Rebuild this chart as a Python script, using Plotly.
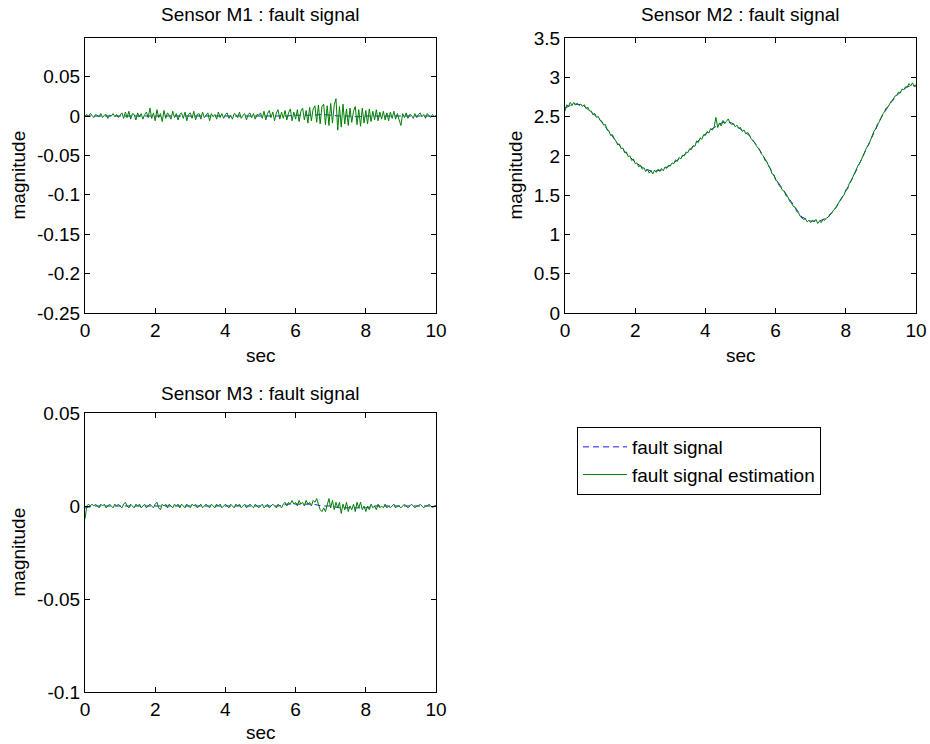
import plotly.graph_objects as go

# ---------------- data ----------------
t_fine = [round(i * 0.05, 2) for i in range(201)]          # estimation samples
t_sig = [round(i * 0.25, 2) for i in range(41)]             # fault signal samples

# Sensor M1
m1_signal = [0.000, 0.000, 0.000, 0.000, 0.000, 0.000, 0.000, 0.000, 0.000, 0.000,
             0.000, 0.000, 0.000, 0.000, 0.000, 0.000, 0.000, 0.000, 0.000, 0.000,
             0.000, 0.000, 0.000, 0.000, 0.001, 0.001, 0.001, 0.002, 0.001, 0.000,
             0.000, -0.001, 0.000, 0.000, 0.000, 0.000, 0.000, 0.000, 0.000, 0.000, 0.000]
m1_est = [0.000, 0.002, -0.001, 0.003, 0.001, -0.002, 0.002, 0.000, -0.001, 0.003,
          -0.002, 0.001, 0.002, -0.003, 0.001, 0.000, 0.003, -0.001, 0.002, -0.002,
          0.001, 0.004, -0.003, 0.005, -0.002, 0.006, -0.004, 0.003, 0.002, -0.005,
          0.004, -0.001, 0.003, -0.004, 0.002, 0.005, -0.002, 0.010, -0.003, 0.004,
          -0.006, 0.008, -0.002, 0.003, -0.007, 0.007, -0.003, 0.004, 0.001, -0.004,
          0.006, -0.002, 0.003, -0.005, 0.002, 0.004, -0.003, 0.005, -0.006, 0.002,
          0.004, -0.003, 0.006, -0.005, 0.002, 0.003, -0.004, 0.005, -0.002, 0.001,
          0.004, -0.006, 0.003, -0.001, 0.002, -0.004, 0.005, -0.002, 0.003, -0.003,
          0.002, 0.004, -0.003, 0.001, -0.004, 0.003, 0.002, -0.002, 0.005, -0.003,
          0.001, 0.003, -0.005, 0.002, 0.004, -0.002, 0.003, -0.004, 0.002, 0.001,
          0.004, -0.003, 0.006, -0.005, 0.003, 0.007, -0.002, 0.005, -0.006, 0.004,
          0.008, -0.004, 0.005, -0.003, 0.007, -0.005, 0.004, 0.009, -0.006, 0.005,
          -0.004, 0.008, -0.007, 0.006, 0.010, -0.005, 0.007, -0.009, 0.011, -0.006,
          0.009, 0.013, -0.008, 0.014, -0.010, 0.012, 0.015, -0.011, 0.013, -0.012,
          0.016, -0.009, 0.014, 0.022, -0.018, 0.012, -0.014, 0.015, -0.010, 0.009,
          -0.012, 0.010, -0.008, 0.006, 0.012, -0.011, 0.008, -0.013, 0.010, -0.009,
          0.007, -0.010, 0.009, -0.007, 0.006, -0.005, 0.008, -0.006, 0.005, -0.004,
          0.006, -0.005, 0.004, -0.006, 0.005, -0.003, 0.006, -0.004, 0.003, -0.005,
          -0.012, 0.003, -0.002, 0.004, -0.003, 0.002, 0.001, -0.003, 0.003, -0.002,
          0.002, 0.004, -0.001, 0.002, -0.003, 0.003, 0.001, -0.002, 0.002, -0.001,
          0.000]

# Sensor M2
m2_signal = [2.61, 2.66, 2.65, 2.55, 2.46, 2.31, 2.16, 2.03, 1.92, 1.84,
             1.80, 1.82, 1.88, 1.96, 2.05, 2.17, 2.28, 2.36, 2.43, 2.42,
             2.34, 2.26, 2.11, 1.92, 1.71, 1.54, 1.38, 1.22, 1.17, 1.17,
             1.22, 1.36, 1.55, 1.77, 2.01, 2.25, 2.48, 2.66, 2.79, 2.88, 2.90]
m2_est = [2.57, 2.65, 2.63, 2.68, 2.64, 2.68, 2.65, 2.67, 2.64, 2.66,
          2.63, 2.65, 2.60, 2.62, 2.57, 2.57, 2.52, 2.54, 2.49, 2.50,
          2.45, 2.44, 2.39, 2.40, 2.33, 2.32, 2.26, 2.27, 2.22, 2.19,
          2.14, 2.15, 2.09, 2.10, 2.04, 2.05, 1.99, 2.00, 1.94, 1.96,
          1.90, 1.91, 1.86, 1.88, 1.83, 1.85, 1.80, 1.83, 1.78, 1.81,
          1.77, 1.82, 1.79, 1.83, 1.80, 1.84, 1.81, 1.86, 1.84, 1.88,
          1.87, 1.91, 1.90, 1.95, 1.93, 1.98, 1.96, 2.01, 2.00, 2.05,
          2.04, 2.09, 2.08, 2.13, 2.12, 2.19, 2.17, 2.23, 2.21, 2.27,
          2.26, 2.31, 2.29, 2.35, 2.33, 2.37, 2.49, 2.36, 2.42, 2.38,
          2.45, 2.41, 2.44, 2.47, 2.42, 2.40, 2.41, 2.37, 2.39, 2.35,
          2.36, 2.31, 2.33, 2.28, 2.30, 2.27, 2.22, 2.20, 2.17, 2.13,
          2.10, 2.07, 2.02, 2.00, 1.94, 1.93, 1.87, 1.84, 1.77, 1.76,
          1.69, 1.68, 1.62, 1.60, 1.56, 1.55, 1.49, 1.48, 1.42, 1.40,
          1.36, 1.35, 1.29, 1.28, 1.23, 1.21, 1.19, 1.20, 1.16, 1.18,
          1.15, 1.18, 1.16, 1.19, 1.14, 1.17, 1.15, 1.19, 1.18, 1.21,
          1.22, 1.26, 1.27, 1.31, 1.33, 1.37, 1.41, 1.44, 1.48, 1.50,
          1.57, 1.58, 1.65, 1.68, 1.73, 1.79, 1.82, 1.88, 1.91, 1.96,
          2.03, 2.06, 2.11, 2.14, 2.20, 2.26, 2.31, 2.34, 2.40, 2.43,
          2.49, 2.53, 2.56, 2.61, 2.62, 2.67, 2.70, 2.72, 2.76, 2.77,
          2.81, 2.80, 2.85, 2.84, 2.88, 2.87, 2.92, 2.89, 2.93, 2.88,
          2.89]

# Sensor M3
m3_signal = [-0.001, 0.000, 0.000, 0.000, 0.000, 0.000, 0.000, 0.000, 0.000, 0.000,
             0.000, 0.000, 0.000, 0.000, 0.000, 0.000, 0.000, 0.000, 0.000, 0.000,
             0.000, 0.000, 0.000, 0.001, 0.001, 0.001, 0.001, 0.000, 0.000, -0.001,
             -0.001, -0.001, -0.001, 0.000, 0.000, 0.000, 0.000, 0.000, 0.000, 0.000, 0.000]
m3_est = [-0.007, 0.000, 0.001, 0.000, 0.001, 0.000, 0.001, 0.000, -0.001, 0.001,
          0.000, 0.001, -0.001, 0.000, 0.001, 0.000, -0.001, 0.001, 0.000, 0.001,
          0.000, -0.001, 0.001, 0.002, 0.000, -0.001, 0.001, 0.000, -0.001, 0.001,
          0.000, 0.001, -0.001, 0.000, 0.001, -0.001, 0.000, 0.001, 0.000, -0.001,
          0.001, 0.002, -0.001, -0.002, 0.001, 0.000, 0.001, -0.001, 0.001, 0.000,
          -0.001, 0.001, 0.000, 0.001, -0.001, 0.001, 0.000, -0.001, 0.001, 0.000,
          -0.001, 0.001, 0.000, 0.001, -0.001, 0.000, 0.001, -0.001, 0.000, 0.001,
          0.000, -0.001, 0.001, 0.000, -0.001, 0.001, 0.000, 0.001, -0.001, 0.000,
          0.001, 0.000, -0.001, 0.001, 0.000, -0.001, 0.001, 0.000, 0.001, -0.001,
          0.000, 0.001, -0.001, 0.000, 0.001, 0.000, -0.001, 0.001, 0.000, -0.001,
          0.000, 0.001, -0.001, 0.000, 0.001, -0.001, 0.000, 0.001, 0.000, -0.001,
          0.001, 0.000, -0.001, 0.001, 0.002, 0.000, 0.002, 0.001, 0.003, 0.001,
          0.002, 0.000, 0.003, 0.001, 0.002, 0.000, 0.003, 0.001, 0.002, 0.000,
          0.003, 0.002, 0.004, 0.001, -0.002, -0.003, -0.001, -0.003, 0.001, 0.004,
          -0.001, 0.003, -0.002, 0.002, -0.001, 0.002, -0.004, 0.001, -0.002, 0.002,
          -0.003, 0.000, -0.002, 0.001, -0.003, 0.002, -0.001, 0.002, -0.002, 0.000,
          -0.003, 0.000, -0.002, 0.001, -0.001, 0.000, -0.002, 0.001, -0.001, 0.000,
          -0.001, 0.001, -0.001, 0.000, -0.001, 0.000, 0.001, -0.001, 0.000, 0.000,
          -0.001, 0.000, 0.001, 0.000, -0.001, 0.000, 0.001, 0.000, -0.001, 0.000,
          0.000, 0.001, 0.000, -0.001, 0.000, 0.000, 0.001, 0.000, -0.001, 0.000,
          0.000]

titles = ["Sensor M1 : fault signal", "Sensor M2 : fault signal", "Sensor M3 : fault signal"]
legend_names = ["fault signal", "fault signal estimation"]
x_ticks = [0, 2, 4, 6, 8, 10]
m1_yticks = [-0.25, -0.2, -0.15, -0.1, -0.05, 0, 0.05]
m1_ytext = ["-0.25", "-0.2", "-0.15", "-0.1", "-0.05", "0", "0.05"]
m2_yticks = [0, 0.5, 1, 1.5, 2, 2.5, 3, 3.5]
m2_ytext = ["0", "0.5", "1", "1.5", "2", "2.5", "3", "3.5"]
m3_yticks = [-0.1, -0.05, 0, 0.05]
m3_ytext = ["-0.1", "-0.05", "0", "0.05"]

# ---------------- figure ----------------
W, H = 930, 744
FONT = "Liberation Sans, Arial, sans-serif"
FS = 19
BLUE = "#1a1aff"
GREEN = "#008000"

def px_x(p):
    return p / W

def px_y(p):
    return 1 - p / H

fig = go.Figure()

panels = [
    dict(xa="x", ya="y", sig=m1_signal, est=m1_est),
    dict(xa="x2", ya="y2", sig=m2_signal, est=m2_est),
    dict(xa="x3", ya="y3", sig=m3_signal, est=m3_est),
]
for i, p in enumerate(panels):
    fig.add_trace(go.Scatter(x=t_sig, y=p["sig"], xaxis=p["xa"], yaxis=p["ya"], mode="lines",
                             line=dict(color=BLUE, width=1, dash="6px,4px"),
                             name=legend_names[0], legendgroup="sig", showlegend=(i == 0)))
    fig.add_trace(go.Scatter(x=t_fine, y=p["est"], xaxis=p["xa"], yaxis=p["ya"], mode="lines",
                             line=dict(color=GREEN, width=1),
                             name=legend_names[1], legendgroup="est", showlegend=(i == 0)))

axis_common = dict(showline=True, linecolor="black", linewidth=1, mirror="ticks",
                   ticks="inside", ticklen=5, tickcolor="black", showgrid=False,
                   zeroline=False, automargin=False,
                   tickfont=dict(family=FONT, size=FS, color="black"))

# panel pixel boxes in the 930x744 picture (left, right, top, bottom)
boxes = [(85, 436, 38, 313), (565, 916, 38, 313), (85, 436, 413, 692)]
yranges = [[-0.25, 0.099], [0, 3.5], [-0.1, 0.05]]
yticks = [(m1_yticks, m1_ytext), (m2_yticks, m2_ytext), (m3_yticks, m3_ytext)]

layout_axes = {}
for i, (l, r, tp, bt) in enumerate(boxes):
    sx = "" if i == 0 else str(i + 1)
    layout_axes["xaxis" + sx] = dict(domain=[px_x(l), px_x(r)], range=[0, 10],
                                     tickvals=x_ticks, ticktext=[str(v) for v in x_ticks],
                                     anchor="y" + sx, **axis_common)
    layout_axes["yaxis" + sx] = dict(domain=[px_y(bt), px_y(tp)], range=yranges[i],
                                     tickvals=yticks[i][0], ticktext=yticks[i][1],
                                     anchor="x" + sx, **axis_common)
fig.update_layout(**layout_axes)

annotations = []
title_y = [15, 15, 393]
xlabel_y = [355, 355, 732]
ylabel_x = [18, 515, 18]
for i, (l, r, tp, bt) in enumerate(boxes):
    cx = (l + r) / 2
    cy = (tp + bt) / 2
    annotations.append(dict(text=titles[i], x=px_x(cx), y=px_y(title_y[i]), xref="paper", yref="paper",
                            xanchor="center", yanchor="middle", showarrow=False,
                            font=dict(family=FONT, size=FS, color="black")))
    annotations.append(dict(text="sec", x=px_x(cx), y=px_y(xlabel_y[i]), xref="paper", yref="paper",
                            xanchor="center", yanchor="middle", showarrow=False,
                            font=dict(family=FONT, size=FS, color="black")))
    annotations.append(dict(text="magnitude", x=px_x(ylabel_x[i]), y=px_y(cy), xref="paper", yref="paper",
                            xanchor="center", yanchor="middle", showarrow=False, textangle=-90,
                            font=dict(family=FONT, size=FS, color="black")))

fig.update_layout(
    width=W, height=H, autosize=False,
    margin=dict(l=0, r=0, t=0, b=0, pad=0, autoexpand=False),
    paper_bgcolor="white", plot_bgcolor="white",
    annotations=annotations,
    showlegend=True,
    legend=dict(x=px_x(577), y=px_y(427), xanchor="left", yanchor="top",
                bordercolor="black", borderwidth=1, bgcolor="white",
                font=dict(family=FONT, size=FS, color="black"),
                tracegroupgap=0, itemwidth=44),
)

fig.write_html("out.html")
